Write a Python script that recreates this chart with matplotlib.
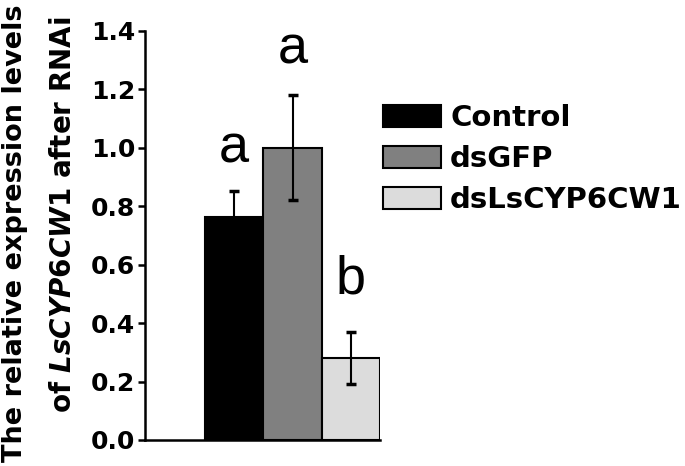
"""
Relative expression of LsCYP6CW1 after RNAi, bar chart with error bars.
"""

import matplotlib
matplotlib.use("Agg")
import matplotlib.pyplot as plt
from matplotlib.patches import Patch

# Data
groups = ['Control', 'dsGFP', 'dsLsCYP6CW1']
means = [0.764, 1.0, 0.28]
errors = [0.09, 0.18, 0.09]
letters = ['a', 'a', 'b']
letter_y = [0.95, 1.29, 0.50]
colors = ['#000000', '#808080', '#dcdcdc']
y_ticks = [0.0, 0.2, 0.4, 0.6, 0.8, 1.0, 1.2, 1.4]

plt.rcParams['font.family'] = ['DejaVu Sans']
plt.rcParams['mathtext.fontset'] = 'custom'
plt.rcParams['mathtext.it'] = 'DejaVu Sans:italic:bold'
plt.rcParams['mathtext.rm'] = 'DejaVu Sans:bold'

fig = plt.figure(figsize=(6.85, 4.66), dpi=100)
ax = fig.add_axes([0.2117, 0.0558, 0.343, 0.8777])

x = list(range(len(groups)))
ax.bar(x, means, width=1.0, color=colors, edgecolor='black', linewidth=1.5, zorder=2)
ax.errorbar(x, means, yerr=errors, fmt='none', ecolor='black', elinewidth=1.5,
            capsize=3.5, capthick=2.5, zorder=3)

# significance letters
for xi, lt, ly in zip(x, letters, letter_y):
    ax.text(xi, ly, lt, ha='center', va='baseline', fontsize=39,
            family='Liberation Sans')

ax.set_xlim(-1.53, 2.5)
ax.set_ylim(0, 1.4)
ax.set_yticks(y_ticks)
ax.set_yticklabels([f'{t:.1f}' for t in y_ticks], fontsize=18, fontweight='bold')
ax.set_xticks([])
ax.tick_params(axis='y', length=5, width=1.8, pad=2)
for side in ['top', 'right']:
    ax.spines[side].set_visible(False)
for side in ['left', 'bottom']:
    ax.spines[side].set_linewidth(1.8)

# two-line y label
fig.text(22 / 685, 0.5, 'The relative expression levels', rotation=90,
         rotation_mode='anchor', ha='center', va='baseline',
         fontsize=19.5, fontweight='bold')
fig.text(71 / 685, 0.54, r'of $\mathit{LsCYP6CW1}$ after RNAi', rotation=90,
         rotation_mode='anchor', ha='center', va='baseline',
         fontsize=20, fontweight='bold')

handles = [Patch(facecolor=c, edgecolor='black', linewidth=1.5) for c in colors]
fig.legend(handles, groups, loc='upper left', bbox_to_anchor=(383 / 685, 1 - 104 / 466),
           frameon=False, prop={'weight': 'bold', 'size': 21},
           handlelength=2.0, handleheight=0.8, handletextpad=0.3,
           labelspacing=0.45, borderpad=0, borderaxespad=0)

plt.savefig('out.png', dpi=100)
